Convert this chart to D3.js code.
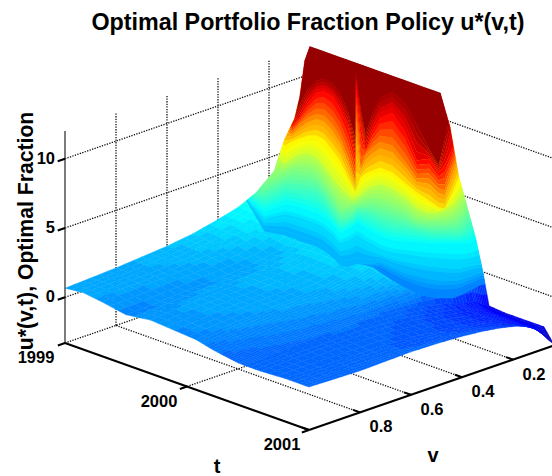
<!DOCTYPE html>
<html><head><meta charset="utf-8">
<script src="https://cdn.jsdelivr.net/npm/d3@7/dist/d3.min.js"></script>
<style>html,body{margin:0;padding:0;background:#fff}svg{display:block}text{font-family:"Liberation Sans",Arial,sans-serif;font-weight:bold;fill:#000}</style>
</head><body><svg id="c" width="552" height="476"></svg>
<script>
const chartTitle = "Optimal Portfolio Fraction Policy u*(v,t)";
const tTicks = [1999, 2000, 2001];
const vTicks = [0.8, 0.6, 0.4, 0.2];
const zTicks = [0, 5, 10];
const surfaceT = [1999,1999.15,1999.3,1999.5,1999.7,1999.9,2000.07,2000.15,2000.22,2000.3,2000.36,2000.42,2000.47,2000.6,2000.8,2000.92,2001];
const surfaceV = [.04,.06,.08,.1,.14,.18,.25,.32,.4,.5,.6,.7,.8,.9,1];
// one row per t, one value per v
const surfaceZ = [
[12,11.1,8.6,7.2,5.9,3.9,2.8,2.2,1.8,1.4,1.15,1,.85,.75,.66],
[12,10.8,8.7,7.3,5.5,3.8,2.7,2.1,1.7,1.3,1.1,.95,.85,.82,.8],
[12,11,9,7.5,5,3.6,2.5,1.9,1.5,1.15,.95,.85,.75,.68,.62],
[12,11,9.5,8,5.5,3.4,2.2,1.6,1.15,.85,.7,.6,.5,.38,.3],
[12,11,9.2,7.6,5.4,3.6,2.4,1.85,1.45,1.15,1,.9,.82,.7,.55],
[12,11,9,7.4,5.3,3.6,2.4,1.8,1.4,1.1,.95,.85,.75,.6,.42],
[12,10.8,8.8,7.2,5.2,3.5,2.3,1.7,1.3,1,.85,.75,.62,.48,.32],
[9.8,9,7.8,6.6,4.9,3.4,2.2,1.6,1.2,.9,.75,.65,.5,.35,.15],
[6.5,6.2,5.8,5.2,4.2,3.1,2,1.45,1.05,.78,.62,.5,.35,.2,0],
[4.2,4.1,3.9,3.6,3,2.4,1.65,1.2,.85,.6,.45,.35,.2,.05,-.12],
[2.43,2.4,2.3,2.1,1.8,1.5,1.1,.8,.55,.38,.28,.2,.08,-.06,-.2],
[.15,.2,.3,.35,.4,.42,.4,.35,.25,.18,.1,.05,-.03,-.15,-.28],
[-2.1,-2,-1.7,-1.4,-1.3,-1,-.7,-.4,-.2,-.05,0,-.05,-.12,-.22,-.3],
[-2.2,-2.1,-1.9,-1.7,-1.4,-1.2,-.95,-.7,-.45,-.3,-.2,-.2,-.2,-.25,-.3],
[-2.2,-2.15,-1.95,-1.75,-1.45,-1.2,-.95,-.75,-.55,-.4,-.3,-.27,-.25,-.22,-.2],
[-2.2,-2.15,-2,-1.8,-1.45,-1.15,-.85,-.65,-.5,-.38,-.3,-.28,-.25,-.22,-.2],
[-3.2,-2.8,-2.3,-1.8,-1.3,-1,-.7,-.5,-.35,-.25,-.2,-.25,-.3,-.25,-.2]
];
// contour bands on the steep wall (taken at v = archV); colour level and height per t
const archV = 0.3;
const archLevels = [11.9,11.6,10.1,8.06,6.5,5.2,4.2,3.1,2.2,1.5,.85,.1];
const archT = [1999,1999.17,1999.34,1999.4,1999.46,1999.53,1999.6,1999.66,1999.73,1999.79,1999.86,1999.92,
               1999.92001,1999.96,2000,2000.06,2000.12,2000.22,2000.32,2000.42,2000.52,2000.6,2000.65,2000.72,2000.78,2000.86,2000.94,2001.02];
const archZ = [
[30,30,30,30,30,30,30,30,30,30,30,30, 30,30,30,30,30,30,30,30,30,30,30,30,30,30,30,30],
[9.75,10.28,10.82,9.7,10.9,12.28,13.07,13.4,13.26,12.8,11.58,9.75, 14.79,12.18,10.43,12.2,13.47,14.22,13.81,12.47,11.05,10.08,12.04,15.13,16.76,18.45,19.42,20.39],
[9.03,9.56,10.1,9.2,9.97,11.27,12.2,12.53,12.33,11.65,10.43,8.46, 14.07,10.96,9.28,10.91,12.03,12.7,11.72,9.88,10.33,9.58,10.24,11.89,13.52,15.57,17.26,18.95],
[8.31,8.84,9.02,8.7,9.46,10.19,10.69,10.74,10.31,9.64,8.27,6.73, 11.55,7.87,8.92,9.69,10.3,10.33,9.56,8.58,8.89,8.43,8.44,10.46,12.44,14.49,16.54,18.23],
[7.59,8.12,7.58,8.05,8.46,8.89,9.11,9.01,8.44,7.91,6.83,6.01, 6.15,7.22,7.63,8.03,8.43,8.39,7.98,7.58,7.31,7.06,7.15,8.66,10.14,11.97,14.38,16.07],
[6.15,6.69,6.28,6.83,7.3,7.6,7.53,7.07,6.43,5.97,5.53,5.43, 5.65,5.92,6.41,6.88,7.21,7.17,6.9,6.43,6.38,6.7,7,7.58,8.48,10.53,12.23,13.92],
[3.13,4.38,5.56,5.97,6.15,6.3,6.23,5.77,5.06,4.38,4.67,5, 5.07,5.28,5.54,5.8,5.84,5.87,5.82,5.49,5.73,5.98,6.14,6.5,7.05,8.38,11.15,13.2],
[3.06,3.3,4.56,4.67,4.79,4.94,5.01,4.69,3.98,3.45,3.81,4.35, 4.57,4.7,4.75,4.79,4.69,4.65,4.82,4.92,5.01,5.19,5.35,5.56,5.75,6.58,9.35,11.04],
[2.92,2.23,3.33,3.45,3.49,3.5,3.5,3.4,3.12,2.66,3.16,3.71, 3.85,3.84,3.67,3.57,3.47,3.5,3.74,3.98,4.22,4.47,4.63,4.84,5.03,5.28,6.11,8.16],
[2.9,1.6,2.4,2.45,2.5,2.5,2.5,2.4,2.1,1.7,2.1,2.6, 2.7,2.6,2.5,2.4,2.3,2.35,2.51,2.69,2.85,3.03,3.12,3.26,3.45,3.84,4.17,4.42],
[2.88,.9,1.1,1.1,1.1,1.1,1.1,1,.75,.4,.5,.85, .9,1,1.1,1.3,1.6,1.5,1.45,1.5,1.6,1.75,1.9,2.1,2.35,2.85,3.35,3.65],
[2.86,.88,1.08,1.08,1.08,1.08,1.08,.98,.73,.38,.48,.83, .88,.95,1,1.05,.88,.62,.43,.31,.33,.51,.67,.89,1.29,1.9,2.51,2.91]
];

const zFloor = -3.3, zTop = 12;
const originX = 65, originY = 343;
const tX = d3.scaleLinear().domain([1999,2001]).range([0,244]);
const tY = d3.scaleLinear().domain([1999,2001]).range([0,87]);
const vX = d3.scaleLinear().domain([1,0]).range([0,255]);
const vY = d3.scaleLinear().domain([1,0]).range([0,-88]);
const zY = d3.scaleLinear().domain([zFloor,zTop]).range([0,-212]);
const P = (t,v,z)=>[originX+tX(t)+vX(v), originY+tY(t)+vY(v)+zY(z)];
const pstr = pts => pts.map(p=>p[0].toFixed(2)+","+p[1].toFixed(2)).join(" ");

// jet colormap, 64 steps
const frac = d3.scaleLinear().domain([-3.75,12]).range([0,1]).clamp(true);
function jet(f){
  const c=x=>Math.max(0,Math.min(1,x));
  const r=c(1.5-Math.abs(4*f-3)), g=c(1.5-Math.abs(4*f-2)), b=c(1.5-Math.abs(4*f-1));
  return d3.rgb(r*255,g*255,b*255).formatHex();
}
const colorOf = z => jet((Math.floor(frac(z)*63.999)+0.5)/64);

const svg = d3.select("#c");
const grid = svg.append("g").attr("fill","none").attr("stroke","#111").attr("stroke-width",1.3).attr("stroke-dasharray","1.3 1.3");
const gl=(a,b)=>grid.append("polyline").attr("points",pstr([a,b]));
const wallDrop=p=>[p[0],p[1]+4.5];
// walls
vTicks.forEach(v=>{gl(P(1999,v,zFloor),P(1999,v,zTop));gl(P(1999,v,zFloor),P(2001,v,zFloor));});
zTicks.forEach(z=>{gl(P(1999,1,z),P(1999,0,z));gl(wallDrop(P(1999,0,z)),wallDrop(P(2001,0,z)));});
gl(P(1999,1,zFloor),P(1999,0,zFloor));
gl(P(2000,1,zFloor),P(2000,0,zFloor));

// surface
const quads=[];
const sub=3;
for(let j=0;j<surfaceT.length-1;j++)for(let i=0;i<surfaceV.length-1;i++){
  const z00=surfaceZ[j][i],z01=surfaceZ[j][i+1],z10=surfaceZ[j+1][i],z11=surfaceZ[j+1][i+1];
  const tl=d3.scaleLinear().domain([0,sub]).range([surfaceT[j],surfaceT[j+1]]);
  const vl=d3.scaleLinear().domain([0,sub]).range([surfaceV[i],surfaceV[i+1]]);
  const zAt=(a,b)=>{const x=a/sub,y=b/sub;return z00*(1-x)*(1-y)+z10*x*(1-y)+z01*(1-x)*y+z11*x*y;};
  for(let a=0;a<sub;a++)for(let b=0;b<sub;b++){
    const c=(zAt(a,b)+zAt(a+1,b)+zAt(a,b+1)+zAt(a+1,b+1))/4;
    quads.push({d:(tl(a)-1999)/2+vl(b),c,pts:[P(tl(a),vl(b),zAt(a,b)),P(tl(a+1),vl(b),zAt(a+1,b)),P(tl(a+1),vl(b+1),zAt(a+1,b+1)),P(tl(a),vl(b+1),zAt(a,b+1))]});
  }
}
quads.sort((p,q)=>p.d-q.d);
svg.append("g").selectAll("polygon").data(quads).join("polygon")
  .attr("points",d=>pstr(d.pts)).attr("fill",d=>colorOf(d.c)).attr("stroke",d=>colorOf(d.c)).attr("stroke-width",0.4);

// outline clip for the wall bands
const last=surfaceT.length-1, lastV=surfaceV.length-1;
const outline=[];
for(let i=lastV;i>=0;i--)outline.push(P(surfaceT[0],surfaceV[i],surfaceZ[0][i]));
for(let j=1;j<=last;j++)outline.push(P(surfaceT[j],surfaceV[0],surfaceZ[j][0]));
for(let i=1;i<=lastV;i++)outline.push(P(surfaceT[last],surfaceV[i],surfaceZ[last][i]));
for(let j=last-1;j>0;j--)outline.push(P(surfaceT[j],surfaceV[lastV],surfaceZ[j][lastV]));
svg.append("defs").append("clipPath").attr("id","sc").append("polygon").attr("points",pstr(outline));
const bands=svg.append("g").attr("clip-path","url(#sc)");
const nsub=4;
for(let k=0;k<archZ.length-1;k++)for(let s=0;s<nsub;s++){
  const f0=s/nsub,f1=(s+1)/nsub;
  const up=archT.map((t,n)=>P(t,archV,archZ[k][n]+(archZ[k+1][n]-archZ[k][n])*f0));
  const lo=archT.map((t,n)=>P(t,archV,archZ[k][n]+(archZ[k+1][n]-archZ[k][n])*f1)).reverse();
  const c=colorOf(archLevels[k]+(archLevels[k+1]-archLevels[k])*(f0+f1)/2);
  bands.append("polygon").attr("points",pstr(up.concat(lo))).attr("fill",c);
}

// axes
const ax=svg.append("g").attr("fill","none").attr("stroke-linecap","butt");
const seg=(a,b,w,col)=>ax.append("polyline").attr("points",pstr([a,b])).attr("stroke",col).attr("stroke-width",w);
seg(P(1999,1,zFloor),P(1999,1,zTop),1.4,"#444");
seg(P(1999,1,zFloor),P(2001,1,zFloor),2,"#000");
seg(P(2001,1,zFloor),P(2001,0,zFloor),2,"#000");
const tickT=0.057, tickV=0.028;
zTicks.forEach(z=>seg(P(1999,1,z),P(1999,1+tickT/2*1,z),2,"#000"));
tTicks.forEach(t=>seg(P(t,1,zFloor),P(t,1+tickV,zFloor),2,"#000"));
vTicks.forEach(v=>seg(P(2001,v,zFloor),P(2001-tickT,v,zFloor),2,"#000"));
seg(P(2001,1,zFloor),P(2001-tickT,1,zFloor),2,"#000");

const txt=(s,x,y,size,anchor,rot)=>{const e=svg.append("text").text(s).attr("x",x).attr("y",y).attr("font-size",size).attr("text-anchor",anchor||"middle").attr("dominant-baseline","central");if(rot)e.attr("transform",`rotate(${rot} ${x} ${y})`);return e;};
txt(chartTitle,308,22,23.3);
zTicks.forEach(z=>{const p=P(1999,1,z);txt(String(z),p[0]-10,p[1]-1,16.5,"end");});
tTicks.forEach(t=>{const p=P(t,1,zFloor);txt(String(t),p[0]-29+(t-1999)*1,p[1]+14,16.5);});
vTicks.forEach(v=>{const p=P(2001,v,zFloor);txt(v.toFixed(1),p[0]+21,p[1]+14,16.5);});
txt("t",217,466,20);
txt("v",433,455,20);
txt("u*(v,t), Optimal Fraction",25,231,21.2,"middle",-90);
</script></body></html>
